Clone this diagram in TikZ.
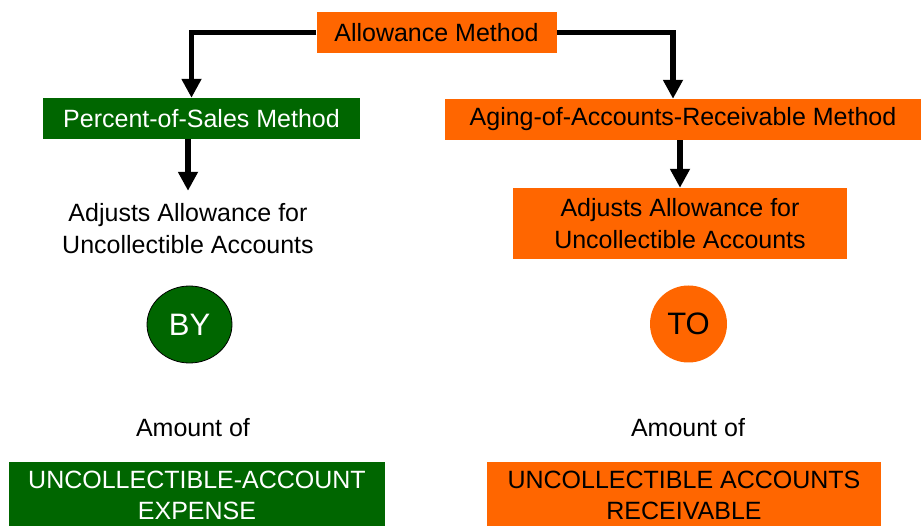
\documentclass[tikz,border=0pt]{standalone}
\usepackage{fontspec}
\setmainfont{Liberation Sans}
\usepackage{tikz}
\usetikzlibrary{arrows.meta,shapes.geometric,positioning}
\usepackage{xcolor}
\definecolor{amorange}{RGB}{255,102,0}
\definecolor{amgreen}{RGB}{0,102,0}
\newcommand{\boxfont}{\fontsize{25}{32}\selectfont}
\newcommand{\capfont}{\fontsize{25}{31}\selectfont}
\tikzstyle{arrow} = [line width=5.5pt,-{Triangle[width=19pt,length=19pt]},color=black]
\tikzstyle{obox} = [fill=amorange, text=black, inner sep=0pt, align=center, font=\boxfont]
\tikzstyle{gbox} = [fill=amgreen, text=white, inner sep=0pt, align=center, font=\boxfont]
\tikzstyle{plain} = [inner sep=0pt, align=center, font=\boxfont]

\begin{document}
\begin{tikzpicture}[x=1pt, y=-1pt]
\useasboundingbox (0,0) rectangle (921,526);

% Top box
\node[obox, minimum width=240, minimum height=41] (top) at (436.5,32.5) {Allowance Method};

% Two methods
\node[gbox, minimum width=317, minimum height=41] (pct) at (201.5,118.5) {Percent-of-Sales Method};
\node[obox, minimum width=476, minimum height=41] (aging) at (683,119.5) {Aging-of-Accounts-Receivable Method};

\draw[arrow] (top.west) -| ([xshift=-10pt]pct.north);
\draw[arrow] (top.east) -| ([xshift=-10pt]aging.north);

% Adjusts
\node[plain, minimum height=76] (adjL) at (188,229) {Adjusts Allowance for\\Uncollectible Accounts};
\node[obox, minimum width=334, minimum height=71] (adjR) at (680,223.5) {Adjusts Allowance for\\Uncollectible Accounts};

\draw[arrow] (pct.south -| adjL.north) -- (adjL.north);
\draw[arrow] (aging.south -| adjR.north) -- (adjR.north);

% BY / TO
\node[ellipse, fill=amgreen, draw=black, line width=0.8pt, text=white, minimum width=85, minimum height=77, inner sep=0pt, font=\fontsize{31}{36}\selectfont] (by) at (189.5,324.5) {BY};
\node[circle, fill=amorange, text=black, minimum size=77, inner sep=0pt, font=\fontsize{31}{36}\selectfont] (to) at (688.5,324) {TO};

% Amount of
\node[plain] (amtL) at (193,428) {Amount of};
\node[plain] (amtR) at (688,428) {Amount of};

% Bottom boxes
\node[gbox, minimum width=376, minimum height=66, font=\capfont] (expL) at (197,495) {UNCOLLECTIBLE-ACCOUNT\\EXPENSE};
\node[obox, minimum width=394, minimum height=66, font=\capfont] (recR) at (684,495) {UNCOLLECTIBLE ACCOUNTS\\RECEIVABLE};
\end{tikzpicture}
\end{document}
